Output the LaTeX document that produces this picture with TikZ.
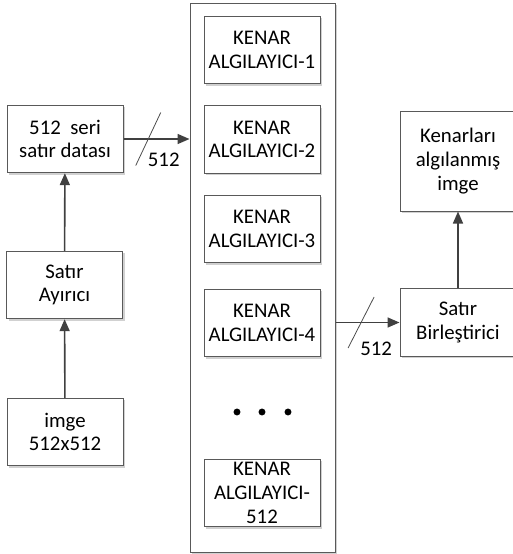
\documentclass[tikz,border=0pt]{standalone}
\usepackage{fontspec}
\setmainfont{Carlito}
\usepackage{tikz}
\usetikzlibrary{
  positioning,
  arrows.meta,
  calc,
  shadows
}

\begin{document}
\begin{tikzpicture}[
  x=0.75pt, y=-0.75pt,
  >={Triangle[length=9pt,width=7.5pt]},
  font=\fontsize{15.6}{17.8}\selectfont,
  kutu/.style={draw=black!65, line width=0.75pt, fill=white, align=center,
    inner sep=0pt,
    drop shadow={shadow xshift=1.5pt, shadow yshift=-1.5pt, fill=black!30, opacity=0.6}},
  blok/.style={kutu, minimum width=87pt, minimum height=50.5pt},
  ok/.style={->, draw=black!75, line width=1.2pt},
  egik/.style={draw=black!70, line width=0.6pt}
]
  \useasboundingbox (0,0) rectangle (512,554);

  % sol sutun
  \node[blok] (seri) at (65,139) {512\ \ seri\\satır datası};
  \node[blok] (ayir) at (64.5,285) {Satır\\Ayırıcı};
  \node[blok] (imge) at (65,432) {imge\\512x512};

  % kenar algilayicilar
  \node[kutu, minimum width=108.75pt, minimum height=411.75pt]
    (cerceve) at (262.5,277.5) {};
  \node[blok] (k1) at (262,50) {KENAR\\ALGILAYICI-1};
  \node[blok] (k2) at (262,139.5) {KENAR\\ALGILAYICI-2};
  \node[blok] (k3) at (262,229) {KENAR\\ALGILAYICI-3};
  \node[blok] (k4) at (262,323) {KENAR\\ALGILAYICI-4};
  \node[blok] (k512) at (262,493) {KENAR\\ALGILAYICI-\\512};
  \foreach \x in {237,262,288}
    \fill (\x,412) circle (2.6pt);

  % sag sutun
  \node[blok, minimum height=75pt] (sonuc) at (458,161)
    {Kenarları\\algılanmış\\imge};
  \node[blok] (birles) at (458,322.5) {Satır\\Birleştirici};

  \draw[ok] (imge) -- (ayir);
  \draw[ok] (ayir) -- (seri);
  \draw[ok] (seri.east) -- coordinate[pos=0.375] (s1) (seri.east -| cerceve.west);
  \draw[egik] ($(s1)+(-12.5,26.5)$) -- ($(s1)+(12.5,-26.5)$);
  \node (l1) at ($(s1)+(15.5,21)$) {512};

  \draw[ok] (birles.west -| cerceve.east) -- coordinate[pos=0.4] (s2) (birles.west);
  \draw[egik] ($(s2)+(-13,25.5)$) -- ($(s2)+(13,-25.5)$);
  \node (l2) at ($(s2)+(15,26.5)$) {512};

  \draw[ok] (birles) -- (sonuc);
\end{tikzpicture}
\end{document}
